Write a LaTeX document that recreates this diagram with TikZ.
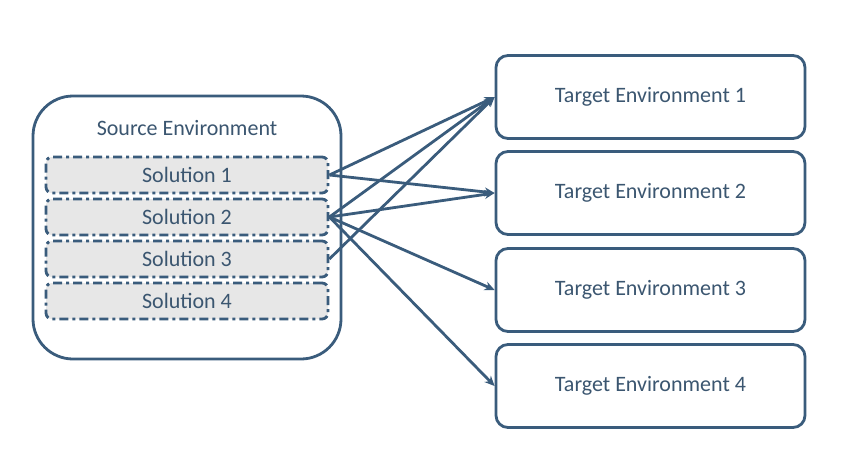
\documentclass[tikz,border=0pt]{standalone}
\usepackage{fontspec}
\setmainfont{Carlito}
\usepackage{tikz}
\usetikzlibrary{arrows.meta, positioning}
\definecolor{envBlue}{HTML}{3A5C7C}
\definecolor{envText}{HTML}{3B5670}
\definecolor{solFill}{HTML}{E7E7E7}

\begin{document}
\begin{tikzpicture}[
  x=1pt, y=-1pt,
  every node/.style={font=\fontsize{22}{25}\selectfont, text=envText},
  envbox/.style={draw=envBlue, line width=2.8pt, fill=white, inner sep=0pt},
  solbox/.style={draw=envBlue, fill=solFill, line width=2.8pt, rounded corners=6pt,
                 dash pattern=on 9pt off 4pt on 3pt off 4pt,
                 minimum width=282pt, minimum height=36pt, inner sep=0pt},
  tgtbox/.style={envbox, rounded corners=12pt, minimum width=309pt, minimum height=83pt},
  arr/.style={-{Stealth[length=10pt, width=9pt]}, line width=2.8pt, draw=envBlue}
]
  \useasboundingbox (0,0) rectangle (843,466);

  % Source side
  \node[envbox, rounded corners=40pt, minimum width=308pt, minimum height=263pt]
    (src) at (187,227.5) {};
  \node (srclabel) at (187,128) {Source Environment};
  \node[solbox] (sol1) at (187,175) {Solution 1};
  \node[solbox] (sol2) at (187,217) {Solution 2};
  \node[solbox] (sol3) at (187,259) {Solution 3};
  \node[solbox] (sol4) at (187,301) {Solution 4};

  % Targets
  \node[tgtbox] (tgt1) at (650.5,97) {Target Environment 1};
  \node[tgtbox] (tgt2) at (650.5,193) {Target Environment 2};
  \node[tgtbox] (tgt3) at (650.5,290) {Target Environment 3};
  \node[tgtbox] (tgt4) at (650.5,386) {Target Environment 4};

  \draw[arr] (sol1.east) -- (tgt1.west);
  \draw[arr] (sol1.east) -- (tgt2.west);
  \draw[arr] (sol2.east) -- (tgt1.west);
  \draw[arr] (sol2.east) -- (tgt2.west);
  \draw[arr] (sol2.east) -- (tgt3.west);
  \draw[arr] (sol2.east) -- (tgt4.west);
  \draw[arr] (sol3.east) -- (tgt1.west);
\end{tikzpicture}
\end{document}
